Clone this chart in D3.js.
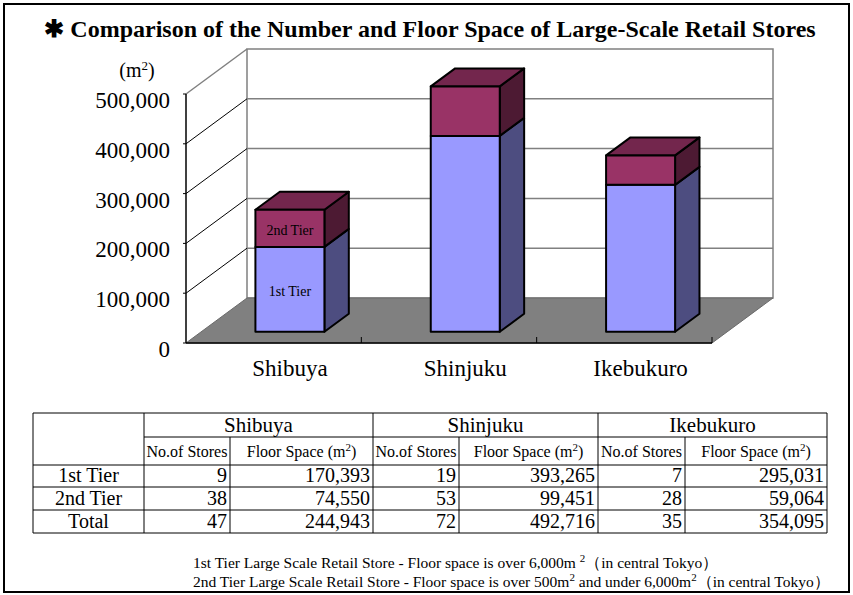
<!DOCTYPE html>
<html>
<head>
<meta charset="utf-8">
<script src="https://cdn.jsdelivr.net/npm/d3@7"></script>
<style>
  body { margin: 0; background: #fff; }
  svg { display: block; }
  text { font-family: "Liberation Serif", "Times New Roman", serif; fill: #000; }
</style>
</head>
<body>
<script>
const cities = ["Shibuya", "Shinjuku", "Ikebukuro"];
const tiers = ["1st Tier", "2nd Tier"];
const tier1Space = [170393, 393265, 295031];
const tier2Space = [74550, 99451, 59064];
const tier1Stores = [9, 19, 7];
const tier2Stores = [38, 53, 28];
const totalStores = [47, 72, 35];
const totalSpace = [244943, 492716, 354095];
const yTicks = [0, 100000, 200000, 300000, 400000, 500000];

const width = 853;
const height = 595;

const svg = d3.select("body")
  .append("svg")
  .attr("width", width)
  .attr("height", height);

// outer frame
svg.append("rect")
  .attr("x", 4).attr("y", 4)
  .attr("width", 845).attr("height", 588)
  .attr("fill", "none")
  .attr("stroke", "#000")
  .attr("stroke-width", 2);

// title
svg.append("text")
  .attr("x", 430).attr("y", 37)
  .attr("text-anchor", "middle")
  .attr("font-size", 24)
  .attr("font-weight", "bold")
  .text("\u2731 Comparison of the Number and Floor Space of Large-Scale Retail Stores");

// 3D projection: depth offset
const DX = 61, DY = 45;
const left = 186, right = 712;

const y = d3.scaleLinear().domain([0, 500000]).range([343, 94]);
const x = d3.scaleBand().domain(cities).range([left, right]);

const grey = "#808080";

// back wall
svg.append("rect")
  .attr("x", left + DX).attr("y", y(500000) - DY)
  .attr("width", right - left).attr("height", y(0) - y(500000))
  .attr("fill", "#fff").attr("stroke", grey).attr("stroke-width", 1.5);

svg.append("g").selectAll("line")
  .data(yTicks.slice(1, 5))
  .join("line")
  .attr("x1", left + DX).attr("x2", right + DX)
  .attr("y1", d => y(d) - DY).attr("y2", d => y(d) - DY)
  .attr("stroke", grey).attr("stroke-width", 1.5);

// side wall diagonals
svg.append("g").selectAll("line")
  .data(yTicks.slice(1))
  .join("line")
  .attr("x1", left).attr("y1", d => y(d))
  .attr("x2", left + DX).attr("y2", d => y(d) - DY)
  .attr("stroke", d => d === 500000 ? grey : "#000")
  .attr("stroke-width", d => d === 500000 ? 1.5 : 1);

// floor
svg.append("path")
  .attr("d", `M${left},${y(0)} L${right},${y(0)} L${right + DX},${y(0) - DY} L${left + DX},${y(0) - DY} Z`)
  .attr("fill", grey)
  .attr("stroke", "#6a6a6a");

svg.append("line")
  .attr("x1", left).attr("x2", right)
  .attr("y1", y(0)).attr("y2", y(0))
  .attr("stroke", "#000").attr("stroke-width", 1.5);

svg.append("g").selectAll("line")
  .data(cities)
  .join("line")
  .attr("x1", d => x(d) + x.bandwidth()).attr("x2", d => x(d) + x.bandwidth())
  .attr("y1", y(0)).attr("y2", y(0) - 6)
  .attr("stroke", "#000");

// value axis
svg.append("line")
  .attr("x1", left).attr("x2", left)
  .attr("y1", y(500000)).attr("y2", y(0))
  .attr("stroke", "#000").attr("stroke-width", 1.5);

svg.append("g").selectAll("line")
  .data(yTicks)
  .join("line")
  .attr("x1", left - 3).attr("x2", left)
  .attr("y1", d => y(d)).attr("y2", d => y(d))
  .attr("stroke", "#000");

svg.append("g").selectAll("text")
  .data(yTicks)
  .join("text")
  .attr("x", 170)
  .attr("y", d => y(d) + 14)
  .attr("text-anchor", "end")
  .attr("font-size", 23)
  .text(d => d3.format(",")(d));

const unit = svg.append("text")
  .attr("x", 137).attr("y", 77)
  .attr("text-anchor", "middle")
  .attr("font-size", 20);
unit.append("tspan").text("(m");
unit.append("tspan").attr("font-size", 13).attr("dy", -7).text("2");
unit.append("tspan").attr("dy", 7).text(")");

// bars
const z0 = 0.25, z1 = 0.65;
const barW = 69;
const tierColors = [
  { front: "#9999ff", side: "#4d4d80", top: "#7a7acc" },
  { front: "#993366", side: "#4d1a33", top: "#73264d" }
];

const stacks = cities.map((c, i) => {
  const cx = x(c) + x.bandwidth() / 2;
  return [
    { city: c, tier: 0, v0: 0, v1: tier1Space[i], cx },
    { city: c, tier: 1, v0: tier1Space[i], v1: tier1Space[i] + tier2Space[i], cx }
  ];
});

const ddx = (z1 - z0) * DX, ddy = (z1 - z0) * DY;
const bars = svg.append("g");
stacks.forEach(stack => {
  stack.forEach(s => {
    const xl = s.cx - barW / 2 + z0 * DX + 1;
    const xr = xl + barW;
    const yt = y(s.v1) - z0 * DY;
    const yb = y(s.v0) - z0 * DY;
    const col = tierColors[s.tier];
    const g = bars.append("g")
      .attr("stroke", "#000").attr("stroke-width", 2).attr("stroke-linejoin", "round");
    g.append("path")
      .attr("d", `M${xr},${yb} L${xr + ddx},${yb - ddy} L${xr + ddx},${yt - ddy} L${xr},${yt} Z`)
      .attr("fill", col.side);
    if (s.tier === 1) {
      g.append("path")
        .attr("d", `M${xl},${yt} L${xr},${yt} L${xr + ddx},${yt - ddy} L${xl + ddx},${yt - ddy} Z`)
        .attr("fill", col.top);
    }
    g.append("rect")
      .attr("x", xl).attr("y", yt)
      .attr("width", barW).attr("height", yb - yt)
      .attr("fill", col.front);
    if (s.city === "Shibuya") {
      bars.append("text")
        .attr("x", xl + barW / 2)
        .attr("y", (yt + yb) / 2 + 7)
        .attr("text-anchor", "middle")
        .attr("font-size", 14)
        .text(tiers[s.tier]);
    }
  });
});

// category labels
svg.append("g").selectAll("text")
  .data(cities)
  .join("text")
  .attr("x", d => x(d) + x.bandwidth() / 2 + z0 * DX + 1)
  .attr("y", 376)
  .attr("text-anchor", "middle")
  .attr("font-size", 23)
  .text(d => d);

// data table
const colX = [33, 144, 230, 373, 459, 598, 685, 827];
const rowY = [413, 437, 465, 487, 510, 533];
const table = svg.append("g").attr("stroke", "#000").attr("stroke-width", 1);

[[colX[0], colX[7], rowY[0]], [colX[1], colX[7], rowY[1]],
 [colX[0], colX[7], rowY[2]], [colX[0], colX[7], rowY[3]],
 [colX[0], colX[7], rowY[4]], [colX[0], colX[7], rowY[5]]]
  .forEach(([a, b, yy]) => table.append("line").attr("x1", a).attr("x2", b).attr("y1", yy).attr("y2", yy));

colX.forEach((cx, i) => {
  const full = [0, 1, 3, 5, 7].includes(i);
  table.append("line")
    .attr("x1", cx).attr("x2", cx)
    .attr("y1", full ? rowY[0] : rowY[1]).attr("y2", rowY[5]);
});

const tt = svg.append("g");
cities.forEach((c, i) => {
  const a = colX[1 + i * 2], m = colX[2 + i * 2], b = colX[3 + i * 2];
  tt.append("text")
    .attr("x", (a + b) / 2).attr("y", rowY[1] - 5)
    .attr("text-anchor", "middle").attr("font-size", 21)
    .text(c);
  tt.append("text")
    .attr("x", (a + m) / 2).attr("y", rowY[2] - 8)
    .attr("text-anchor", "middle").attr("font-size", 16)
    .text("No.of Stores");
  const fs = tt.append("text")
    .attr("x", (m + b) / 2).attr("y", rowY[2] - 8)
    .attr("text-anchor", "middle").attr("font-size", 16);
  fs.append("tspan").text("Floor Space (m");
  fs.append("tspan").attr("font-size", 11).attr("dy", -6).text("2");
  fs.append("tspan").attr("dy", 6).text(")");

  const storeVals = [tier1Stores[i], tier2Stores[i], totalStores[i]];
  const spaceVals = [tier1Space[i], tier2Space[i], totalSpace[i]];
  storeVals.forEach((v, r) => {
    tt.append("text")
      .attr("x", m - 3).attr("y", rowY[r + 3] - 5)
      .attr("text-anchor", "end").attr("font-size", 20)
      .text(v);
  });
  spaceVals.forEach((v, r) => {
    tt.append("text")
      .attr("x", b - 3).attr("y", rowY[r + 3] - 5)
      .attr("text-anchor", "end").attr("font-size", 20)
      .text(d3.format(",")(v));
  });
});

[...tiers, "Total"].forEach((t, r) => {
  tt.append("text")
    .attr("x", (colX[0] + colX[1]) / 2).attr("y", rowY[r + 3] - 5)
    .attr("text-anchor", "middle").attr("font-size", 20)
    .text(t);
});

// footnotes
const n1 = svg.append("text").attr("x", 193).attr("y", 568).attr("font-size", 15.5);
n1.append("tspan").text("1st Tier Large Scale Retail Store - Floor space is over 6,000m ");
n1.append("tspan").attr("font-size", 11).attr("dy", -6).text("2");
n1.append("tspan").attr("dy", 6).text("\uff08in central Tokyo\uff09");

const n2 = svg.append("text").attr("x", 193).attr("y", 587).attr("font-size", 15.5);
n2.append("tspan").text("2nd Tier Large Scale Retail Store - Floor space is over 500m");
n2.append("tspan").attr("font-size", 11).attr("dy", -6).text("2");
n2.append("tspan").attr("dy", 6).text(" and under 6,000m");
n2.append("tspan").attr("font-size", 11).attr("dy", -6).text("2");
n2.append("tspan").attr("dy", 6).text("\uff08in central Tokyo\uff09");
</script>
</body>
</html>
